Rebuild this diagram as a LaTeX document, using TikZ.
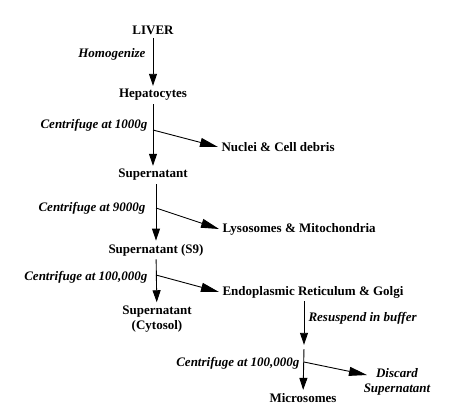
\documentclass[tikz,border=0pt]{standalone}
\usepackage{fontspec}
\setmainfont{Liberation Serif}
\usetikzlibrary{arrows.meta}

\begin{document}
\begin{tikzpicture}[x=1pt, y=-1pt,
    font=\fontsize{13}{15}\selectfont\bfseries,
    lbl/.style={font=\fontsize{13}{15}\selectfont\bfseries\itshape},
    varr/.style={line width=.9pt, -{Triangle[length=12pt,width=8pt]}},
    darr/.style={line width=.9pt, -{Triangle[length=18pt,width=9pt]}}]
    \useasboundingbox (0,0) rectangle (468,410);

    \node (liver) at (153,30) {LIVER};
    \node (hep) at (153,95) {Hepatocytes};
    \node (sup) at (153,175) {Supernatant};
    \node (ssn) at (156,250) {Supernatant (S9)};
    \node[align=center] (cyto) at (157,319) {Supernatant\\(Cytosol)};
    \node[anchor=west] (nuc) at (218,147) {Nuclei \& Cell debris};
    \node[anchor=west] (lys) at (219,229) {Lysosomes \& Mitochondria};
    \node[anchor=west] (er) at (219,292) {Endoplasmic Reticulum \& Golgi};
    \node[inner sep=2pt] (gap) at (304,347) {};
    \node (mic) at (303,398) {Microsomes};
    \node[lbl, align=center] (disc) at (397,382) {Discard\\Supernatant};

    \node[lbl, anchor=east] (hom) at (149,54) {Homogenize};
    \node[lbl, anchor=east] (cfa) at (151,125) {Centrifuge at 1000g};
    \node[lbl, anchor=east] (cfb) at (149,208) {Centrifuge at 9000g};
    \node[lbl, anchor=east] (cfc) at (151,277) {Centrifuge at 100,000g};
    \node[lbl, anchor=west] (res) at (305,318) {Resuspend in buffer};
    \node[lbl, anchor=east] (cfd) at (303,363) {Centrifuge at 100,000g};

    \coordinate (b1) at (153,130);
    \coordinate (b2) at (156,208);
    \coordinate (b3) at (156,275);
    \coordinate (b4) at (304,362);
    \coordinate (dtip) at (367,375);

    \draw[varr] (liver) -- (hep);
    \draw[varr] (hep) -- (sup);
    \draw[varr] (sup.south -| ssn) -- (ssn);
    \draw[varr] (ssn) -- (cyto);
    \draw[varr] (er.south -| gap) -- (gap);
    \draw[varr] (gap) -- (mic);

    \draw[darr] (b1) -- (nuc.west);
    \draw[darr] (b2) -- (lys.west);
    \draw[darr] (b3) -- (er.west);
    \draw[darr] (b4) -- (dtip);

\end{tikzpicture}
\end{document}
